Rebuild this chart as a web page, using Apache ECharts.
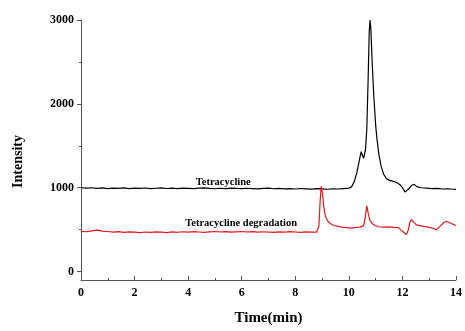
<!DOCTYPE html>
<html><head><meta charset="utf-8">
<script src="https://cdn.jsdelivr.net/npm/echarts@6/dist/echarts.min.js"></script>
<style>html,body{margin:0;padding:0;background:#fff}#c{width:465px;height:331px}</style>
</head><body><div id="c"></div>
<script>
const xTickLabels = [0, 2, 4, 6, 8, 10, 12, 14];
const yTickLabels = [0, 1000, 2000, 3000];
const yMinorTicks = [500, 1500, 2500];
const seriesNames = ['Tetracycline', 'Tetracycline degradation'];
const labelPositions = [[5.31, 1065], [5.98, 575]];

const tetracycline = [
  [0,1000],[0.2,995],[0.4,1000],[0.6,992],[0.8,998],[1.0,990],[1.2,996],[1.4,993],[1.6,998],[1.8,990],
  [2.0,995],[2.2,992],[2.4,997],[2.6,990],[2.8,994],[3.0,998],[3.2,991],[3.4,995],[3.6,990],[3.8,996],
  [4.0,993],[4.2,990],[4.4,995],[4.6,998],[4.8,992],[5.0,988],[5.2,994],[5.4,990],[5.6,996],[5.8,992],
  [6.0,989],[6.2,994],[6.4,990],[6.6,986],[6.8,992],[7.0,995],[7.2,988],[7.4,992],[7.6,986],[7.8,990],
  [8.0,985],[8.2,991],[8.4,987],[8.6,983],[8.8,990],[9.0,986],[9.2,982],[9.4,988],[9.6,985],[9.8,990],
  [10.0,995],[10.1,1010],[10.2,1070],[10.3,1180],[10.4,1340],[10.46,1430],[10.55,1350],[10.62,1450],
  [10.67,1700],[10.72,2300],[10.76,2850],[10.79,3000],[10.82,2900],[10.87,2500],[10.93,2100],[11.0,1750],
  [11.05,1580],[11.12,1400],[11.2,1260],[11.3,1160],[11.4,1110],[11.5,1090],[11.66,1076],[11.8,1060],
  [11.91,1037],[12.0,1000],[12.1,950],[12.15,930],[12.25,990],[12.35,1030],[12.44,1040],[12.55,1010],
  [12.7,1000],[12.9,995],[13.1,990],[13.3,993],[13.5,985],[13.7,988],[13.9,982],[14.0,980]
];

const degradation = [
  [0,480],[0.2,475],[0.4,485],[0.6,495],[0.8,482],[1.0,478],[1.2,470],[1.4,476],[1.6,468],[1.8,474],
  [2.0,470],[2.2,466],[2.4,472],[2.6,468],[2.8,474],[3.0,470],[3.2,466],[3.4,473],[3.6,469],[3.8,475],
  [4.0,470],[4.2,476],[4.4,472],[4.6,468],[4.8,474],[5.0,478],[5.2,472],[5.4,476],[5.6,470],[5.8,474],
  [6.0,478],[6.2,472],[6.4,476],[6.6,470],[6.8,475],[7.0,472],[7.2,468],[7.4,474],[7.6,470],[7.8,476],
  [8.0,472],[8.2,468],[8.4,474],[8.6,470],[8.8,472],[8.88,540],[8.93,850],[8.97,1018],[9.02,920],
  [9.06,784],[9.12,667],[9.18,620],[9.25,588],[9.35,565],[9.43,550],[9.6,540],[9.74,530],[9.9,525],
  [10.11,518],[10.25,528],[10.42,530],[10.55,545],[10.61,640],[10.67,784],[10.72,700],[10.79,608],
  [10.88,570],[10.98,550],[11.1,535],[11.3,530],[11.5,534],[11.7,528],[11.85,525],[11.96,491],[12.05,470],
  [12.15,441],[12.22,500],[12.28,590],[12.34,620],[12.42,590],[12.52,558],[12.7,545],[12.96,530],
  [13.1,520],[13.27,500],[13.4,540],[13.55,585],[13.64,597],[13.75,585],[13.83,573],[13.92,560],[14,550]
];

const FONT = '"Liberation Serif", "Times New Roman", serif';
const chart = echarts.init(document.getElementById('c'), null, {renderer: 'canvas'});
const lbl = (i) => ({
  coord: labelPositions[i], symbolSize: 0,
  label: {show: true, position: 'inside', formatter: seriesNames[i], color: '#000',
    fontFamily: FONT, fontWeight: 'bold', fontSize: 10.5}
});
chart.setOption({
  animation: false,
  grid: {left: 81, right: 7, top: 20, bottom: 46},
  xAxis: {
    type: 'value', min: 0, max: 14, interval: 2,
    name: 'Time(min)', nameLocation: 'middle', nameGap: 31,
    nameTextStyle: {fontFamily: FONT, fontWeight: 'bold', fontSize: 15, color: '#000'},
    axisLine: {onZero: false, lineStyle: {color: '#555', width: 1}},
    axisTick: {inside: true, length: 4, lineStyle: {color: '#555'}},
    minorTick: {show: true, splitNumber: 2, length: 2, lineStyle: {color: '#555'}},
    axisLabel: {margin: 7, fontFamily: FONT, fontWeight: 'bold', fontSize: 12, color: '#000',
      customValues: xTickLabels, formatter: (v) => String(v)},
    splitLine: {show: false}
  },
  yAxis: [{
    type: 'value', min: -100, max: 3000,
    axisLine: {show: true, onZero: false, lineStyle: {color: '#555', width: 1}},
    axisTick: {show: true, length: 4, customValues: yTickLabels, lineStyle: {color: '#555'}},
    axisLabel: {margin: 7, fontFamily: FONT, fontWeight: 'bold', fontSize: 12, color: '#000',
      customValues: yTickLabels, formatter: (v) => String(v)},
    splitLine: {show: false}
  }, {
    type: 'value', min: -100, max: 3000, position: 'left',
    axisLine: {show: false},
    axisTick: {show: true, length: 2, customValues: yMinorTicks, lineStyle: {color: '#555'}},
    axisLabel: {show: false, customValues: yMinorTicks},
    splitLine: {show: false}
  }],
  graphic: [{
    type: 'text', left: 11, top: 135, rotation: Math.PI / 2,
    style: {text: 'Intensity', font: 'bold 14px ' + FONT, fill: '#000'}
  }],
  series: [{
    name: seriesNames[0], type: 'line', data: tetracycline, showSymbol: false,
    lineStyle: {color: '#000', width: 1.2},
    markPoint: {symbol: 'circle', data: [lbl(0)]}
  }, {
    name: seriesNames[1], type: 'line', data: degradation, showSymbol: false,
    lineStyle: {color: '#e3161c', width: 1.2},
    markPoint: {symbol: 'circle', data: [lbl(1)]}
  }]
});
</script></body></html>
